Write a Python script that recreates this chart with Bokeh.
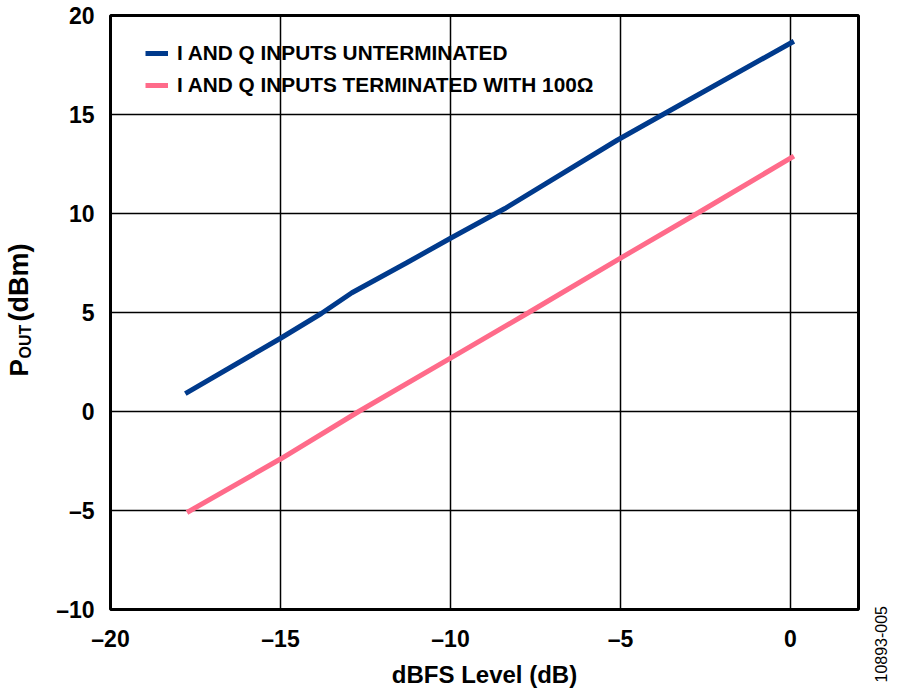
import math
from bokeh.plotting import figure
from bokeh.layouts import row
from bokeh.models import FixedTicker, Legend, LegendItem
from bokeh.core.properties import value
from bokeh.embed import file_html
from bokeh.resources import INLINE

# ---- data ----
unterm_x = [-17.8, -15.0, -13.8, -12.9, -11.3, -10.0, -8.4, -5.1, -3.7, 0.1]
unterm_y = [0.9, 3.7, 4.95, 6.0, 7.5, 8.75, 10.25, 13.7, 15.05, 18.7]

term_x = [-17.75, -15.0, -12.7, -10.0, -7.7, -5.0, -2.7, 0.1]
term_y = [-5.1, -2.4, 0.0, 2.7, 5.0, 7.75, 10.05, 12.9]

x_ticks = [-20, -15, -10, -5, 0]
y_ticks = [-10, -5, 0, 5, 10, 15, 20]

series_names = ["I AND Q INPUTS UNTERMINATED", "I AND Q INPUTS TERMINATED WITH 100Ω"]
series_colors = ["#003a8c", "#ff6b8a"]

FONT = "Liberation Sans"
H = 696


def dash_label(v):
    return ("–" + str(abs(v))) if v < 0 else str(v)


def blank_fig(w):
    f = figure(width=w, height=H, x_range=(0, w), y_range=(0, H),
               x_axis_type=None, y_axis_type=None, min_border=0,
               output_backend="svg", toolbar_location=None, frame_align=False)
    f.grid.visible = False
    f.outline_line_color = None
    return f


# ---- main plot ----
p = figure(
    frame_width=748, frame_height=594,
    min_border_left=62, min_border_right=6, min_border_top=15, min_border_bottom=87,
    x_range=(-20, 2), y_range=(-10, 20),
    output_backend="svg", toolbar_location=None,
    background_fill_color="white", border_fill_color="white",
)

r1 = p.line(unterm_x, unterm_y, line_color=series_colors[0], line_width=5)
r2 = p.line(term_x, term_y, line_color=series_colors[1], line_width=5)

p.xaxis.ticker = FixedTicker(ticks=x_ticks)
p.yaxis.ticker = FixedTicker(ticks=y_ticks)
p.xaxis.major_label_overrides = {t: dash_label(t) for t in x_ticks}
p.yaxis.major_label_overrides = {t: dash_label(t) for t in y_ticks}
for ax in (p.xaxis, p.yaxis):
    ax.axis_line_color = None
    ax.major_tick_line_color = None
    ax.minor_tick_line_color = None
    ax.major_label_text_font = FONT
    ax.major_label_text_font_style = "bold"
    ax.major_label_text_font_size = "23px"
    ax.major_label_text_color = "black"
p.xaxis.major_label_standoff = 10
p.yaxis.major_label_standoff = 10

p.xaxis.axis_label = "dBFS Level (dB)"
p.xaxis.axis_label_text_font = FONT
p.xaxis.axis_label_text_font_style = "bold"
p.xaxis.axis_label_text_font_size = "24px"
p.xaxis.axis_label_text_color = "black"
p.xaxis.axis_label_standoff = 6

p.grid.grid_line_color = "black"
p.grid.grid_line_width = 1.5
p.grid.grid_line_alpha = 1.0
p.outline_line_color = "black"
p.outline_line_width = 3
p.outline_line_alpha = 1.0

legend = Legend(
    items=[LegendItem(label=series_names[0], renderers=[r1]),
           LegendItem(label=series_names[1], renderers=[r2])],
    location=(35, 512),
    border_line_color=None, background_fill_alpha=0.0,
    label_text_font=FONT, label_text_font_style="bold", label_text_font_size="20.8px",
    label_text_color="black",
    glyph_width=23, glyph_height=20, label_height=20, label_standoff=9,
    spacing=8, padding=0, margin=0,
)
p.add_layout(legend)

# ---- y-axis title: P_OUT (dBm) ----
left = blank_fig(48)
left.text(x=[18.8], y=[320], text=["P"], angle=math.pi / 2,
          text_font=value(FONT), text_font_style="bold", text_font_size="26px",
          text_color="black", text_align="left", text_baseline="alphabetic")
left.text(x=[24.5], y=[338], text=["OUT"], angle=math.pi / 2,
          text_font=value(FONT), text_font_style="bold", text_font_size="16px",
          text_color="black", text_align="left", text_baseline="alphabetic")
left.text(x=[18.3], y=[375], text=["(dBm)"], angle=math.pi / 2,
          text_font=value(FONT), text_font_style="bold", text_font_size="27px",
          text_color="black", text_align="left", text_baseline="alphabetic")

# ---- figure id on the right ----
right = blank_fig(36)
right.text(x=[16.3], y=[14], text=["10893-005"], angle=math.pi / 2,
           text_font=value(FONT), text_font_size="16px",
           text_color="black", text_align="left", text_baseline="alphabetic")

layout = row(left, p, right, spacing=0)

open("out.html", "w").write(file_html(layout, INLINE))
